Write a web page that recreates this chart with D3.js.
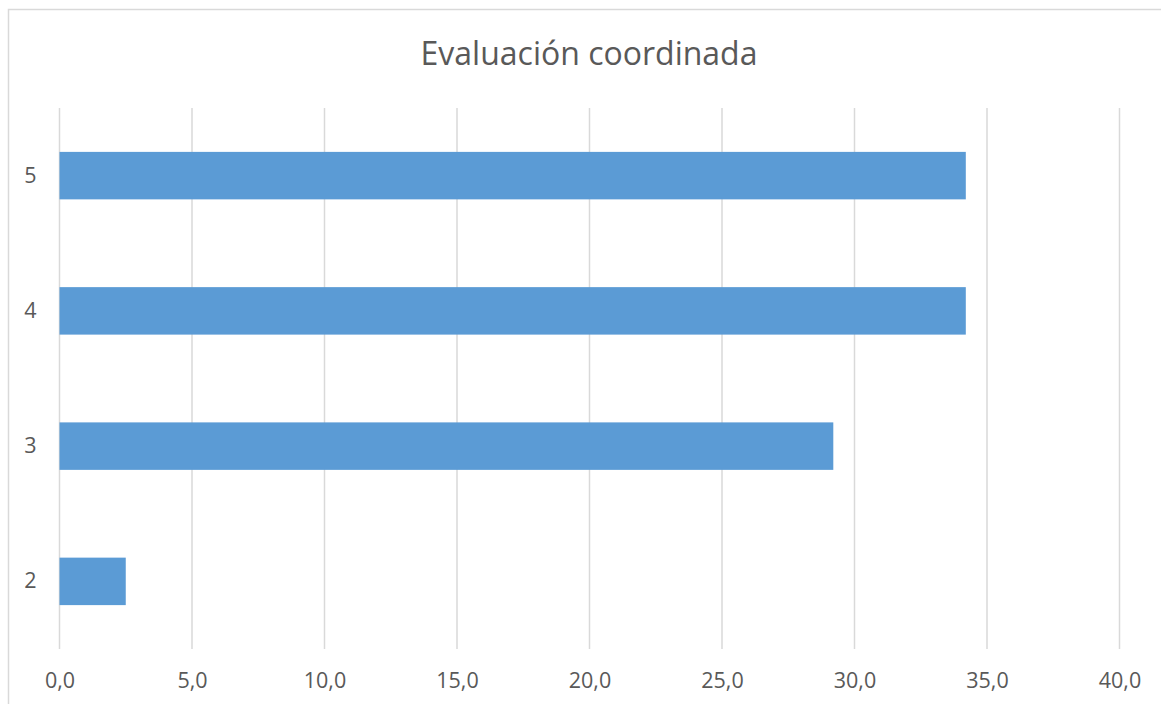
<html>
<head>
<meta charset="utf-8">
<script src="https://d3js.org/d3.v7.min.js"></script>
<style>
body {
    margin: 0;
    background: #ffffff;
}

.chart text {
    fill: #595959;
    font-family: "Open Sans", sans-serif;
}

.chart .tick text {
    font-size: 21.5px;
}

.chart .charttitle {
    font-size: 32px;
}
</style>
</head>
<body>

<script type="text/javascript">

// chart values
var categories = ["5", "4", "3", "2"];
var values = [34.2, 34.2, 29.2, 2.5];
var xTicks = [0, 5, 10, 15, 20, 25, 30, 35, 40];
var title = "Evaluación coordinada";

function buildBarChart() {
    var totalWidth = 1161;
    var totalHeight = 704;
    var margin = {top: 108, right: 41.5, bottom: 55, left: 59.5};
    var width = totalWidth - margin.left - margin.right;
    var height = totalHeight - margin.top - margin.bottom;

    var svg = d3.select("body").append("svg")
        .attr("width", totalWidth)
        .attr("height", totalHeight)
        .attr("class", "chart");

    // chart frame
    svg.append("rect")
        .attr("x", 8.5)
        .attr("y", 9.5)
        .attr("width", 1160)
        .attr("height", 710)
        .attr("fill", "none")
        .attr("stroke", "#d9d9d9")
        .attr("stroke-width", 1.5);

    svg.append("text")
        .attr("class", "charttitle")
        .attr("x", 589)
        .attr("y", 65)
        .attr("text-anchor", "middle")
        .text(title);

    var chart = svg.append("g")
        .attr("transform", "translate(" + margin.left + "," + margin.top + ")");

    var x = d3.scaleLinear()
        .domain([0, 40])
        .range([0, width]);

    var y = d3.scaleBand()
        .domain(categories)
        .range([0, height])
        .paddingInner(0.649)
        .paddingOuter(0.3245);

    // vertical gridlines
    chart.append("g")
        .selectAll("line")
        .data(xTicks)
      .enter().append("line")
        .attr("x1", function(d) { return x(d); })
        .attr("x2", function(d) { return x(d); })
        .attr("y1", 0)
        .attr("y2", height)
        .attr("stroke", "#d9d9d9")
        .attr("stroke-width", 1.5);

    // bars
    chart.append("g")
        .selectAll("rect")
        .data(values)
      .enter().append("rect")
        .attr("x", x(0))
        .attr("y", function(d, i) { return y(categories[i]); })
        .attr("width", function(d) { return x(d) - x(0); })
        .attr("height", y.bandwidth())
        .attr("fill", "#5b9bd5");

    // x axis labels
    var xAxis = chart.append("g")
        .attr("transform", "translate(0," + height + ")")
        .call(d3.axisBottom(x)
            .tickValues(xTicks)
            .tickSize(0)
            .tickPadding(24)
            .tickFormat(function(d) { return d3.format(".1f")(d).replace(".", ","); }));
    xAxis.select(".domain").remove();
    xAxis.selectAll("text").attr("dy", "0.71em");

    // y axis labels
    var yAxis = chart.append("g")
        .call(d3.axisLeft(y)
            .tickSize(0)
            .tickPadding(23));
    yAxis.select(".domain").remove();
}

buildBarChart();

</script>

</body>
</html>
